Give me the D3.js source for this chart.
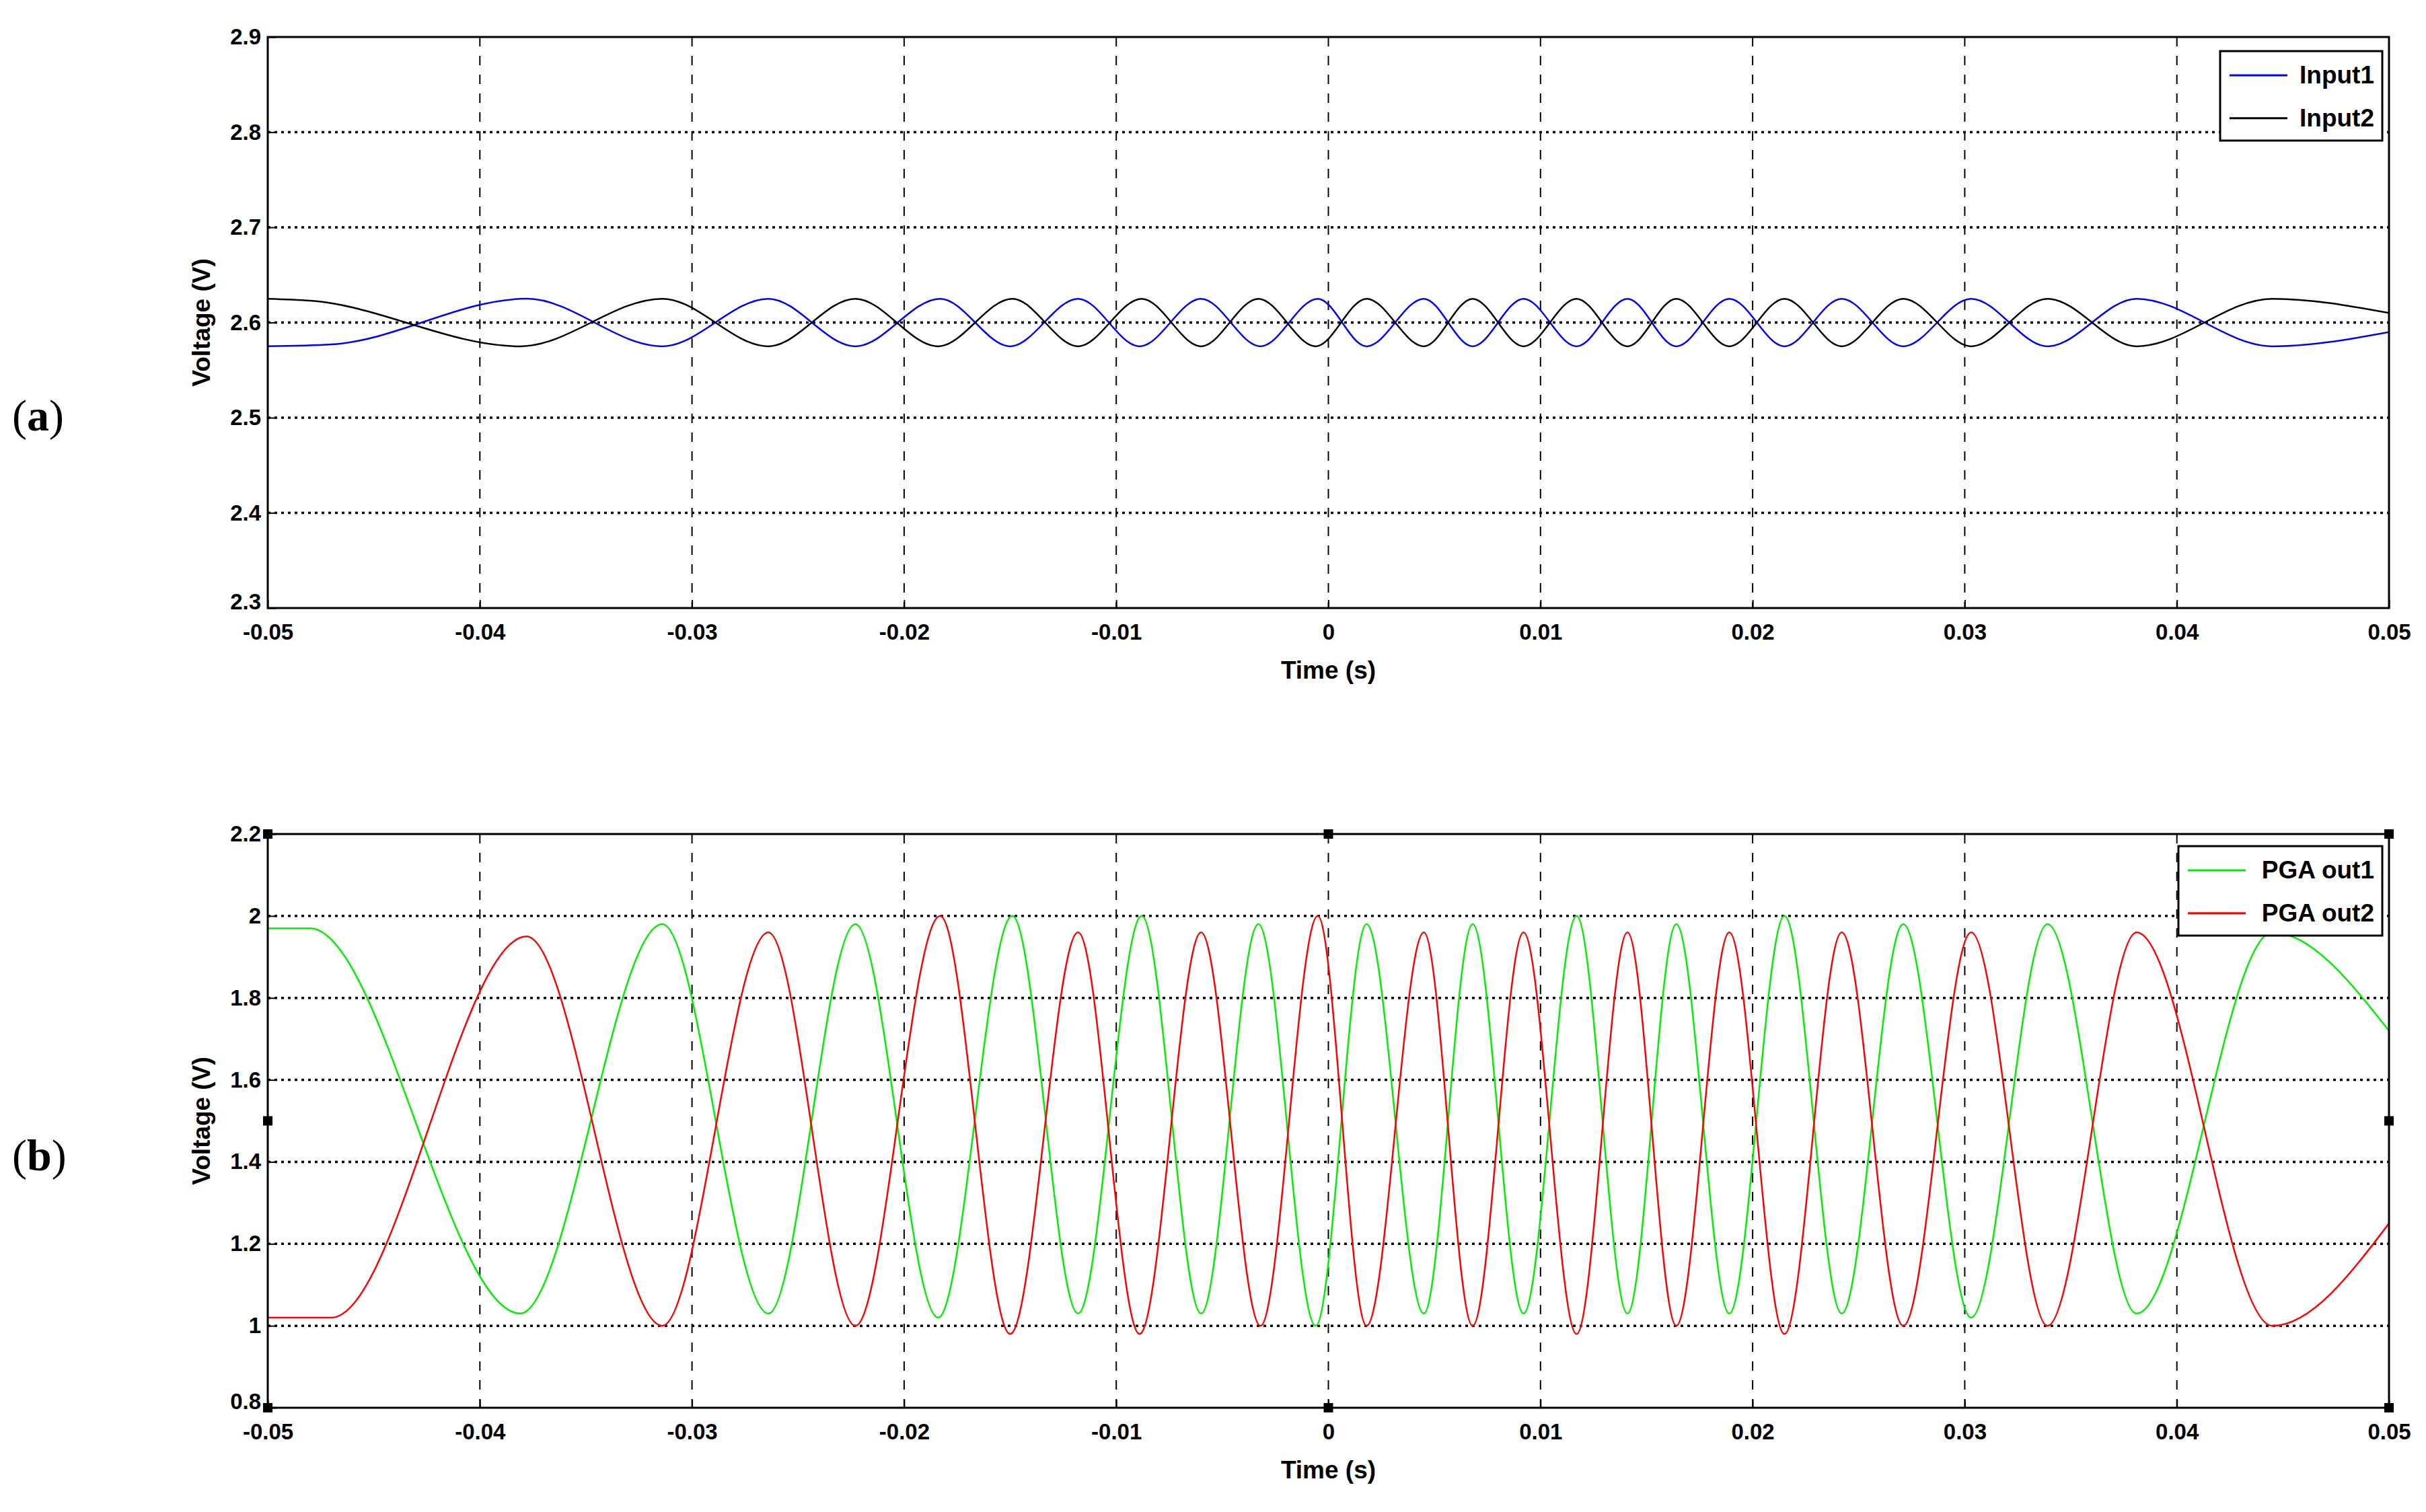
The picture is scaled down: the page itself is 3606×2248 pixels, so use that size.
<!DOCTYPE html>
<html><head><meta charset="utf-8">
<script src="https://cdn.jsdelivr.net/npm/d3@7"></script>
<style>body{margin:0;background:#fff}</style>
</head><body>
<svg id="c" width="3606" height="2248"></svg>
<script>
// ---- data ----
const xTicks = [-0.05,-0.04,-0.03,-0.02,-0.01,0,0.01,0.02,0.03,0.04,0.05];
const xTickLabels = ["-0.05","-0.04","-0.03","-0.02","-0.01","0","0.01","0.02","0.03","0.04","0.05"];
const yTicksA = [2.3,2.4,2.5,2.6,2.7,2.8,2.9];
const yTicksB = [0.8,1,1.2,1.4,1.6,1.8,2,2.2];
// extremum times of PGA out2 / Input1 (red / blue)
const tRed = [-0.05,-0.047,-0.0378,-0.0314,-0.0264,-0.0223,-0.0183,-0.0150,-0.0118,-0.0089,-0.0060,-0.0032,-0.0005,0.0018,0.0045,0.0068,0.0092,0.0117,0.0141,0.0164,0.0189,0.0215,0.0242,0.0271,0.0303,0.0339,0.0381,0.0445,0.05];
const vRed = [1.02,1.02,1.95,1.0,1.96,1.0,2.0,0.98,1.96,0.98,1.96,1.0,2.0,1.0,1.96,1.0,1.96,0.98,1.96,1.0,1.96,0.98,1.96,1.0,1.96,1.0,1.96,1.0,1.25];
const vBlue = [2.575,2.577,2.625,2.575,2.625,2.575,2.625,2.575,2.625,2.575,2.625,2.575,2.625,2.575,2.625,2.575,2.625,2.575,2.625,2.575,2.625,2.575,2.625,2.575,2.625,2.575,2.625,2.575,2.59];
// extremum times of PGA out1 / Input2 (green / black)
const tGreen = [-0.05,-0.048,-0.0381,-0.0314,-0.0264,-0.0223,-0.0184,-0.0149,-0.0118,-0.0088,-0.0060,-0.0033,-0.0006,0.0018,0.0045,0.0068,0.0092,0.0117,0.0141,0.0164,0.0189,0.0215,0.0242,0.0271,0.0303,0.0339,0.0381,0.0445,0.05];
const vGreen = [1.97,1.97,1.03,1.98,1.03,1.98,1.02,2.0,1.03,2.0,1.03,1.98,1.0,1.98,1.03,1.98,1.03,2.0,1.03,1.98,1.03,2.0,1.03,1.98,1.02,1.98,1.03,1.96,1.72];
const vBlack = [2.625,2.623,2.575,2.625,2.575,2.625,2.575,2.625,2.575,2.625,2.575,2.625,2.575,2.625,2.575,2.625,2.575,2.625,2.575,2.625,2.575,2.625,2.575,2.625,2.575,2.625,2.575,2.625,2.61];

const svg = d3.select("#c");
const L=398, R=3551;
const x = d3.scaleLinear().domain([-0.05,0.05]).range([L,R]);
const font = "'Liberation Sans', Arial, sans-serif";

function panel(top,bottom,yDom,yTicks,series,legend,lg,tag,tagY,handles){
  const y = d3.scaleLinear().domain(yDom).range([bottom,top]);
  const g = svg.append("g");
  g.selectAll(".vg").data(xTicks.slice(1,-1)).join("line")
    .attr("x1",d=>x(d)).attr("x2",d=>x(d)).attr("y1",top).attr("y2",bottom)
    .attr("stroke","#000").attr("stroke-width",2).attr("stroke-dasharray","14,14");
  g.selectAll(".hg").data(yTicks.slice(1,-1)).join("line")
    .attr("x1",L).attr("x2",R).attr("y1",d=>y(d)).attr("y2",d=>y(d))
    .attr("stroke","#000").attr("stroke-width",3.5).attr("stroke-dasharray","4,6");
  const id="clip"+tag;
  svg.append("clipPath").attr("id",id).append("rect").attr("x",L).attr("y",top).attr("width",R-L).attr("height",bottom-top);
  series.forEach(s=>{
    const pts = s.t.map((t,i)=>[t,s.v[i]]);
    g.append("path").attr("clip-path",`url(#${id})`).attr("d",
      d3.line().x(d=>x(d[0])).y(d=>y(d[1])).curve(d3.curveMonotoneX)(pts))
      .attr("fill","none").attr("stroke",s.c).attr("stroke-width",s.w);
  });
  const ax = g.append("g").attr("transform",`translate(0,${bottom})`)
    .call(d3.axisBottom(x).tickValues(xTicks).tickFormat((d,i)=>xTickLabels[i]).tickSizeInner(-12).tickSizeOuter(0).tickPadding(22));
  const ay = g.append("g").attr("transform",`translate(${L},0)`)
    .call(d3.axisLeft(y).tickValues(yTicks).tickFormat(d=>d3.format("")(+d.toFixed(1))).tickSizeInner(-12).tickSizeOuter(0).tickPadding(10));
  [ax,ay].forEach(a=>{a.selectAll("text").attr("font-family",font).attr("font-weight","bold").attr("font-size",33).attr("fill","#000");
    a.select(".domain").remove(); a.selectAll("line").attr("stroke-width",2);});
  ax.selectAll("text").attr("dy","0.75em");
  ay.selectAll("text").filter((d,i)=>i===0).attr("dy","0.05em");
  g.append("rect").attr("x",L).attr("y",top).attr("width",R-L).attr("height",bottom-top)
    .attr("fill","none").attr("stroke","#000").attr("stroke-width",3);
  g.append("text").attr("x",(L+R)/2).attr("y",bottom+105).attr("text-anchor","middle")
    .attr("font-family",font).attr("font-weight","bold").attr("font-size",37).text("Time (s)");
  g.append("text").attr("transform",`translate(312,${(top+bottom)/2}) rotate(-90)`).attr("text-anchor","middle")
    .attr("font-family",font).attr("font-weight","bold").attr("font-size",37).text("Voltage (V)");
  const tg = g.append("text").attr("x",18).attr("y",tagY).attr("font-family","'Liberation Serif', 'Times New Roman', serif").attr("font-size",66);
  tg.append("tspan").text("(");
  tg.append("tspan").attr("font-weight","bold").text(tag);
  tg.append("tspan").text(")");
  g.append("rect").attr("x",lg.x).attr("y",lg.y).attr("width",lg.w).attr("height",lg.h)
    .attr("fill","#fff").attr("stroke","#000").attr("stroke-width",3);
  legend.forEach((e,i)=>{
    const yy = lg.y + lg.h*(0.27+0.48*i);
    g.append("line").attr("x1",lg.x+14).attr("x2",lg.x+100).attr("y1",yy).attr("y2",yy).attr("stroke",e.c).attr("stroke-width",3);
    g.append("text").attr("x",lg.x+lg.w-12).attr("y",yy+12).attr("text-anchor","end")
      .attr("font-family",font).attr("font-weight","bold").attr("font-size",37).text(e.n);
  });
  if(handles){
    const xs=[L,(L+R)/2,R], ys=[top,(top+bottom)/2,bottom];
    xs.forEach((hx,i)=>ys.forEach((hy,j)=>{ if(i===1&&j===1) return;
      g.append("rect").attr("x",hx-7).attr("y",hy-7).attr("width",14).attr("height",14).attr("fill","#000");}));
  }
}
panel(55,904,[2.3,2.9],yTicksA,
  [{t:tRed,v:vBlue,c:"#0000ff",w:2.5},{t:tGreen,v:vBlack,c:"#000",w:2.5}],
  [{n:"Input1",c:"#0000ff"},{n:"Input2",c:"#000"}],{x:3300,y:76,w:241,h:133},"a",640,false);
panel(1240,2093,[0.8,2.2],yTicksB,
  [{t:tGreen,v:vGreen,c:"#00ee00",w:2.5},{t:tRed,v:vRed,c:"#ff0000",w:2.5}],
  [{n:"PGA out1",c:"#00ee00"},{n:"PGA out2",c:"#ff0000"}],{x:3238,y:1258,w:303,h:133},"b",1740,true);
</script>
</body></html>
